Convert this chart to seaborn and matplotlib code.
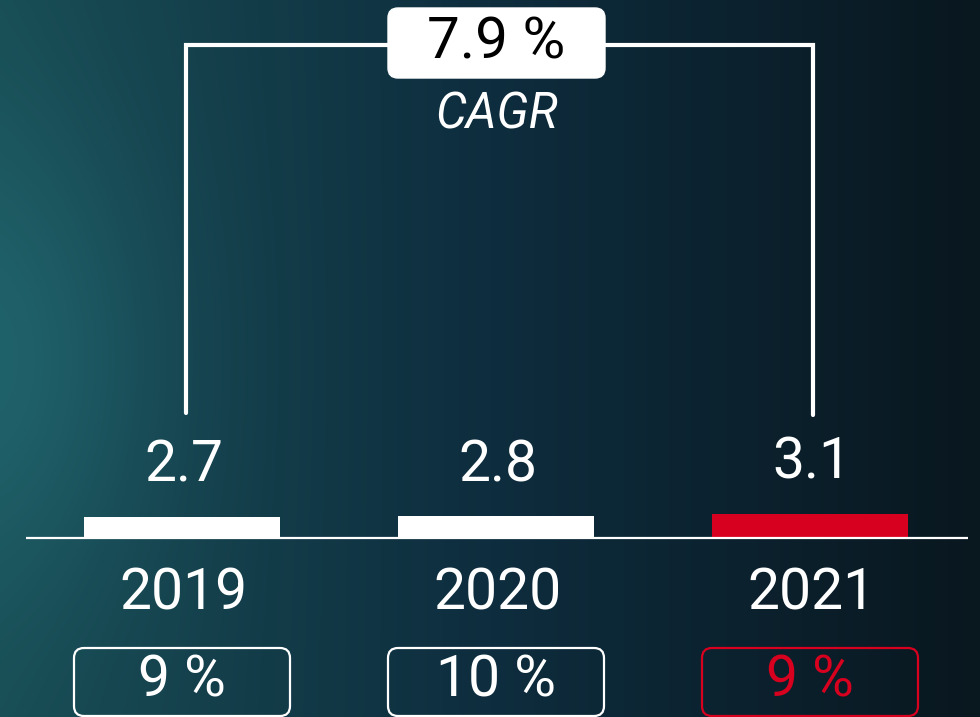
import numpy as np
import pandas as pd
import seaborn as sns
import matplotlib.pyplot as plt
from matplotlib.patches import FancyBboxPatch

# --- data ---
years = ["2019", "2020", "2021"]
revenue = [2.7, 2.8, 3.1]
value_labels = ["2.7", "2.8", "3.1"]
growth_labels = ["9 %", "10 %", "9 %"]
bar_colors = ["#ffffff", "#ffffff", "#d7001e"]
cagr_label = "7.9 %"

RED = "#d7001e"
FONT = ["Roboto", "DejaVu Sans"]

sns.set_theme(style="white")
plt.rcParams["font.family"] = FONT

W, H, DPI = 980, 717, 100
fig = plt.figure(figsize=(W / DPI, H / DPI), dpi=DPI)

# --- background gradient ---
bg = fig.add_axes([0, 0, 1, 1], zorder=0)
xs = np.linspace(0, 1, 400)
ys = np.linspace(0, 1, 300)
X, Y = np.meshgrid(xs, ys)
stops_x = [0.0, 0.5, 1.0]
stops_c = np.array([[24, 76, 84], [14, 45, 62], [9, 23, 31]]) / 255.0
img = np.zeros(X.shape + (3,))
for k in range(3):
    img[..., k] = np.interp(X, stops_x, stops_c[:, k])
glow = np.exp(-(X ** 2) / 0.03 - ((Y - 0.5) ** 2) / 0.12)
img = img + glow[..., None] * (np.array([8, 22, 22]) / 255.0)
bg.imshow(np.clip(img, 0, 1), aspect="auto", extent=[0, 1, 0, 1], origin="upper")
bg.set_axis_off()

# --- main chart ---
ax = fig.add_axes([0, 0, 1, 1], zorder=1)
ax.patch.set_alpha(0)
df = pd.DataFrame({"year": years, "revenue": revenue})
sns.barplot(data=df, x="year", y="revenue", hue="year", palette=bar_colors,
            width=0.627, legend=False, ax=ax, saturation=1, linewidth=0)

px_per_unit = 7.7
base_px = 538
ax.set_ylim(-(H - base_px) / px_per_unit, base_px / px_per_unit)
ax.set_xlim(-182 / 314, 2 + (W - 810) / 314)
ax.set_axis_off()


def py(p):
    # pixel row from top -> data y
    return (base_px - p) / px_per_unit


# baseline
ax.plot([-0.498, 2.503], [0, 0], color="white", lw=1.6, solid_capstyle="butt", zorder=3)

# value labels
for i, (v, lab) in enumerate(zip(revenue, value_labels)):
    ax.text(i + 0.005, v + 6.6, lab, ha="center", va="center", color="white",
            fontsize=41)

# year labels
for i, yr in enumerate(years):
    ax.text(i + 0.005, py(594), yr, ha="center", va="center", color="white",
            fontsize=41)

# CAGR bracket
bx0, bx1 = 0.013, 2.01
ax.plot([bx0, bx0, bx1, bx1], [py(413), py(45), py(45), py(415)],
        color="white", lw=3, solid_joinstyle="miter", zorder=2)

# boxes drawn in pixel coords
def px_box(x0, y0, x1, y1, face, edge, lw):
    box = FancyBboxPatch((x0, H - y1), x1 - x0, y1 - y0,
                         boxstyle="round,pad=0,rounding_size=10",
                         transform=None, facecolor=face, edgecolor=edge,
                         lw=lw, zorder=4, clip_on=False)
    fig.add_artist(box)


px_box(388, 8, 605, 78, "white", "white", 1)
fig.text(496.5 / W, 1 - 43 / H, cagr_label, ha="center", va="center",
         color="black", fontsize=42, zorder=5)
fig.text(496.5 / W, 1 - 115 / H, "CAGR", ha="center", va="center",
         color="white", fontsize=35, fontstyle="italic", zorder=5)

# growth boxes
for i, lab in enumerate(growth_labels):
    cx = ax.transData.transform((i, 0))[0]
    ec = RED if i == 2 else "white"
    px_box(cx - 108, 648, cx + 108, 716, "none", ec, 1.6)
    fig.text(cx / W, 1 - 681 / H, lab, ha="center", va="center",
             color=ec, fontsize=41, zorder=5)

fig.savefig("out.png", dpi=DPI)
